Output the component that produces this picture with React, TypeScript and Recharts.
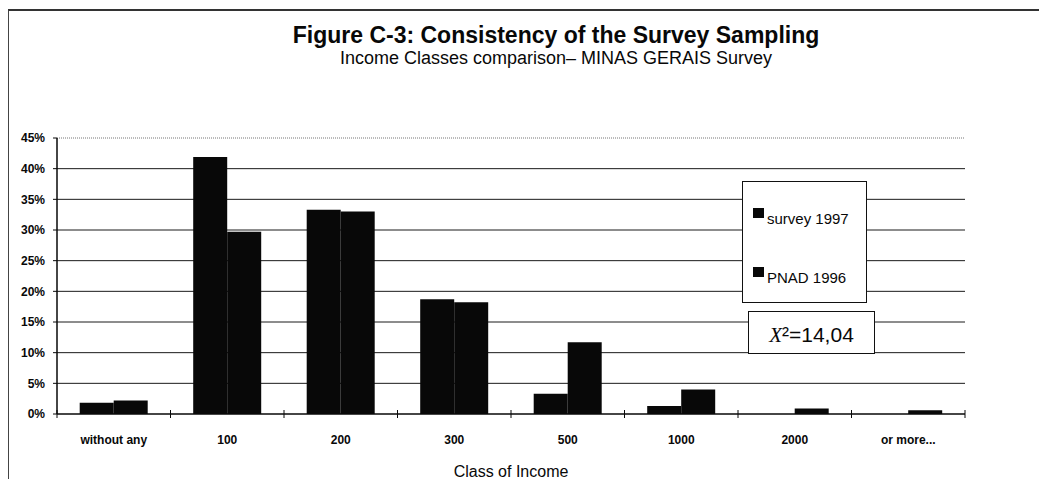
import { BarChart, Bar, XAxis, YAxis, CartesianGrid, Legend, ReferenceLine } from 'recharts';

// income classes (monthly income brackets) and the share of households in each
const categories = ['without any', '100', '200', '300', '500', '1000', '2000', 'or more...'];
const survey1997 = [1.85, 41.9, 33.3, 18.7, 3.3, 1.3, 0, 0];
const pnad1996 = [2.2, 29.7, 33.0, 18.2, 11.7, 4.0, 0.9, 0.6];
const seriesNames = ['survey 1997', 'PNAD 1996'];
const percentTicks = [0, 5, 10, 15, 20, 25, 30, 35, 40, 45];
const chiSquare = '14,04';

const data = categories.map((name, i) => ({
  name,
  survey: survey1997[i],
  pnad: pnad1996[i],
}));

const FONT = '"Liberation Sans", Arial, Helvetica, sans-serif';
const INK = '#080808';

// Excel-style category tick: label in the middle, tick marks on the band edges
const CategoryTick = ({ x, y, payload, index }: any) => {
  const half = payload?.offset ?? 56.75;
  const isLast = index === categories.length - 1;
  return (
    <g>
      <line x1={x - half} x2={x - half} y1={y - 4} y2={y + 4} stroke={INK} />
      {isLast && <line x1={x + half} x2={x + half} y1={y - 4} y2={y + 4} stroke={INK} />}
      <text
        x={x}
        y={y + 30}
        textAnchor="middle"
        fontFamily={FONT}
        fontSize={12}
        fontWeight="bold"
        fill={INK}
      >
        {payload.value}
      </text>
    </g>
  );
};

const LegendBox = ({ payload }: any) => {
  // keep the series order, the legend sorts by name otherwise
  const items = [...(payload ?? [])].sort(
    (a: any, b: any) => seriesNames.indexOf(a.value) - seriesNames.indexOf(b.value)
  );
  return (
    <div
      style={{
        position: 'relative',
        boxSizing: 'border-box',
        width: 125,
        height: 122,
        border: '1px solid #111',
        background: '#fff',
        fontFamily: FONT,
        fontSize: 15,
        color: INK,
      }}
    >
      {items.map((entry: any, i: number) => (
        <div
          key={entry.value}
          style={{ position: 'absolute', left: 10, top: 26 + i * 59, display: 'flex', alignItems: 'flex-start' }}
        >
          <span style={{ display: 'block', width: 11, height: 10, background: entry.color }} />
          <span style={{ marginLeft: 3, marginTop: 2, lineHeight: '17px', whiteSpace: 'nowrap' }}>
            {entry.value}
          </span>
        </div>
      ))}
    </div>
  );
};

export default function App() {
  return (
    <div
      style={{
        position: 'relative',
        width: 1047,
        height: 487,
        margin: -8,
        background: '#fff',
        overflow: 'hidden',
        fontFamily: FONT,
        color: INK,
      }}
    >
      <div
        style={{
          position: 'absolute',
          left: 556,
          top: 24,
          transform: 'translateX(-50%)',
          whiteSpace: 'nowrap',
          fontSize: 23,
          fontWeight: 'bold',
          lineHeight: 1,
        }}
      >
        Figure C-3: Consistency of the Survey Sampling
      </div>
      <div
        style={{
          position: 'absolute',
          left: 556,
          top: 49,
          transform: 'translateX(-50%)',
          whiteSpace: 'nowrap',
          fontSize: 18,
          lineHeight: 1,
        }}
      >
        Income Classes comparison– MINAS GERAIS Survey
      </div>

      <div style={{ position: 'absolute', left: 0, top: 0 }}>
        <BarChart
          width={1047}
          height={487}
          data={data}
          margin={{ top: 138, right: 82, bottom: 0, left: 0 }}
          barCategoryGap="20%"
          barGap={0}
        >
          <CartesianGrid
            vertical={false}
            horizontalValues={percentTicks.slice(1, -1)}
            stroke="#1a1a1a"
            strokeWidth={1}
          />
          <ReferenceLine y={45} stroke="#777" strokeDasharray="1 1" />
          <XAxis
            dataKey="name"
            height={73}
            interval={0}
            tickSize={0}
            tickMargin={0}
            tickLine={false}
            axisLine={{ stroke: INK, strokeWidth: 1.5 }}
            tick={<CategoryTick />}
            label={{
              value: 'Class of Income',
              position: 'insideBottom',
              offset: 10,
              fontFamily: FONT,
              fontSize: 16,
              fill: INK,
            }}
          />
          <YAxis
            width={57}
            domain={[0, 45]}
            ticks={percentTicks}
            interval={0}
            tickFormatter={(v: number) => `${v}%`}
            tickSize={4}
            tickMargin={8}
            tickLine={{ stroke: INK }}
            axisLine={{ stroke: INK, strokeWidth: 1.5 }}
            tick={{ fontFamily: FONT, fontSize: 12, fontWeight: 'bold', fill: INK }}
          />
          <YAxis
            yAxisId="frame"
            orientation="right"
            width={0}
            domain={[0, 45]}
            tick={false}
            tickLine={false}
            axisLine={{ stroke: '#555', strokeDasharray: '1 2' }}
          />
          <Legend
            layout="horizontal"
            verticalAlign="middle"
            align="center"
            content={<LegendBox />}
            wrapperStyle={{ left: 742, top: 181, width: 125, height: 122 }}
          />
          <Bar dataKey="survey" name={seriesNames[0]} fill={INK} isAnimationActive={false} />
          <Bar dataKey="pnad" name={seriesNames[1]} fill={INK} isAnimationActive={false} />
        </BarChart>
      </div>

      {/* goodness-of-fit statistic */}
      <div
        style={{
          position: 'absolute',
          left: 748,
          top: 311,
          width: 127,
          height: 43,
          boxSizing: 'border-box',
          border: '1px solid #111',
          background: '#fff',
          display: 'flex',
          alignItems: 'center',
          justifyContent: 'center',
          paddingTop: 5,
          fontSize: 21,
          whiteSpace: 'nowrap',
        }}
      >
        <span style={{ fontFamily: '"Liberation Serif", "Times New Roman", serif', fontStyle: 'italic' }}>X</span>
        ²={chiSquare}
      </div>

      {/* outer chart frame: top and left edges */}
      <div
        style={{
          position: 'absolute',
          zIndex: 10,
          left: 7,
          top: 9,
          width: 1060,
          height: 500,
          boxSizing: 'border-box',
          borderTop: '2px solid #333',
          borderLeft: '2px solid #444',
          pointerEvents: 'none',
        }}
      />
    </div>
  );
}
